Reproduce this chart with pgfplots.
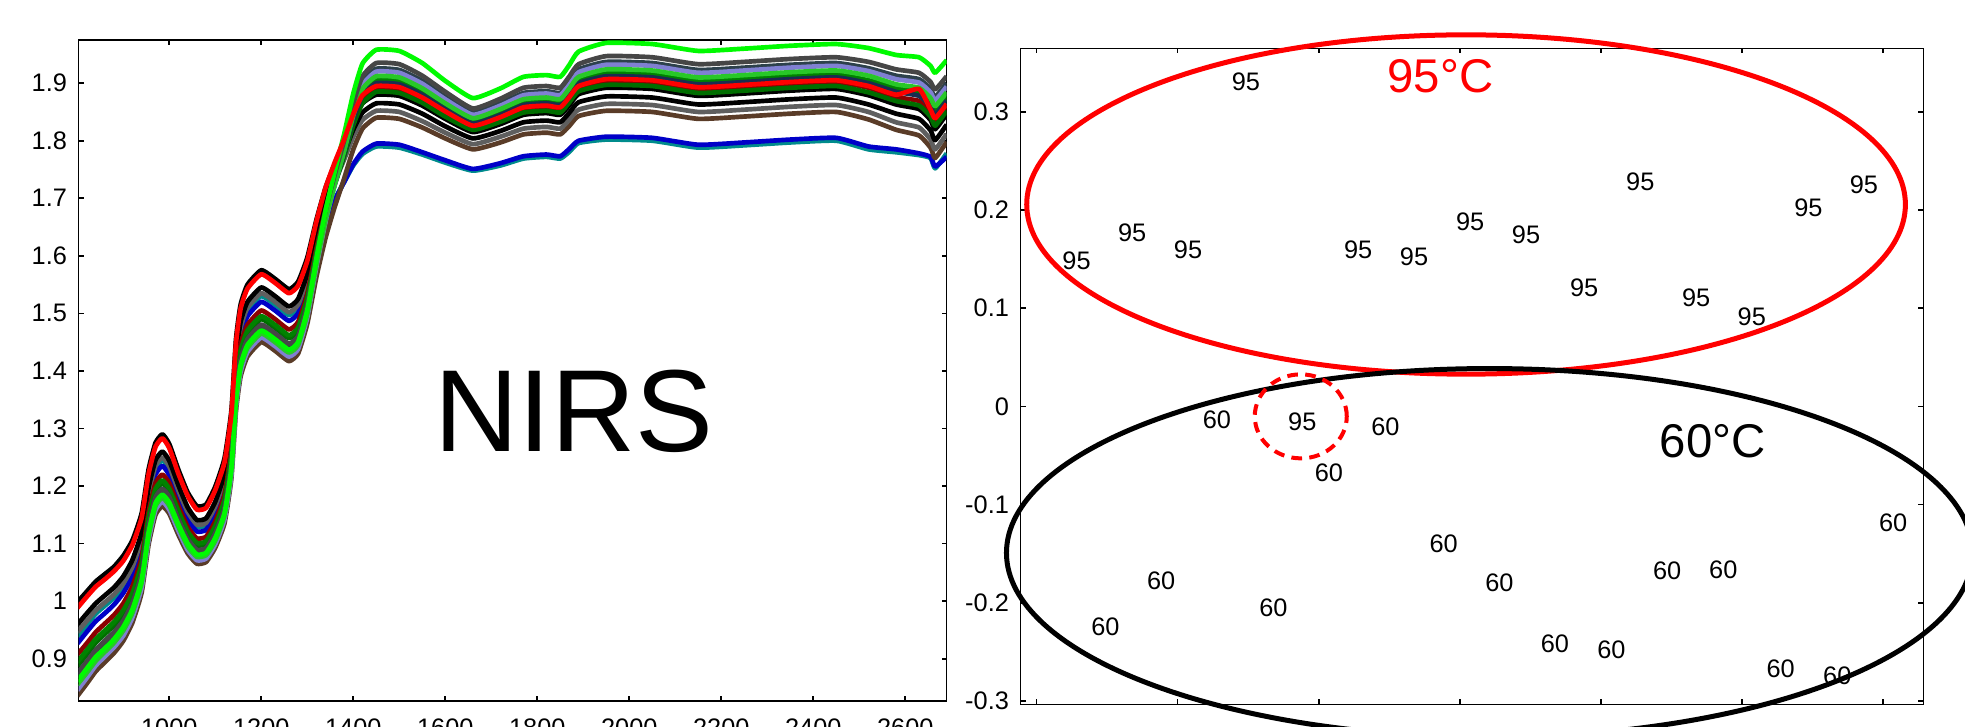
\documentclass[border=0pt]{standalone}
\usepackage{fontspec}
\setmainfont{Liberation Sans}
\usepackage{pgfplots}
\usepackage{pgfplotstable}
\pgfplotsset{compat=1.18}

\definecolor{cteal}{RGB}{0,140,140}
\definecolor{cblue}{RGB}{0,0,200}
\definecolor{cdred}{RGB}{140,0,0}
\definecolor{cdgreen}{RGB}{0,130,0}
\definecolor{cnavy}{RGB}{25,45,80}
\definecolor{cslate}{RGB}{45,65,75}
\definecolor{cgreen}{RGB}{40,200,40}
\definecolor{cpurple}{RGB}{128,128,210}
\definecolor{cbrown}{RGB}{90,60,40}
\definecolor{cdgrey}{RGB}{70,70,70}
\definecolor{clime}{RGB}{0,250,0}
\definecolor{cgrey}{RGB}{95,95,95}
\definecolor{cgreen3}{RGB}{0,110,0}

\pgfplotstableread{
x c1 c2 c3 c4 c5 c6 c7 c8 c9 c10 c11 c12 c13 c14 c15 c16
800 0.998 0.988 0.959 0.939 0.926 0.907 0.894 0.874 0.868 0.855 0.845 0.835 0.874 0.861 0.946 0.887
820 1.016 1.007 0.978 0.958 0.946 0.926 0.914 0.894 0.888 0.875 0.866 0.856 0.894 0.882 0.965 0.907
840 1.034 1.025 0.996 0.978 0.965 0.946 0.934 0.915 0.909 0.896 0.888 0.878 0.915 0.903 0.984 0.928
860 1.047 1.038 1.010 0.992 0.979 0.961 0.949 0.931 0.925 0.912 0.904 0.894 0.931 0.918 0.998 0.943
880 1.060 1.052 1.024 1.006 0.994 0.976 0.964 0.946 0.940 0.928 0.920 0.910 0.946 0.934 1.012 0.958
900 1.079 1.070 1.043 1.025 1.014 0.996 0.984 0.966 0.961 0.949 0.940 0.931 0.966 0.955 1.031 0.978
920 1.106 1.098 1.072 1.055 1.043 1.026 1.014 0.997 0.991 0.980 0.972 0.963 0.997 0.986 1.060 1.009
940 1.153 1.145 1.120 1.103 1.092 1.076 1.065 1.048 1.043 1.032 1.024 1.015 1.048 1.037 1.109 1.059
955 1.229 1.221 1.197 1.182 1.171 1.155 1.145 1.129 1.124 1.113 1.106 1.098 1.129 1.119 1.187 1.140
970 1.275 1.268 1.245 1.230 1.220 1.205 1.195 1.180 1.175 1.165 1.158 1.150 1.180 1.170 1.235 1.190
985 1.290 1.283 1.260 1.245 1.235 1.220 1.210 1.195 1.190 1.180 1.173 1.165 1.195 1.185 1.250 1.205
1000 1.273 1.266 1.244 1.229 1.219 1.205 1.195 1.181 1.176 1.166 1.159 1.152 1.181 1.171 1.234 1.190
1020 1.228 1.221 1.201 1.187 1.178 1.165 1.156 1.142 1.138 1.129 1.122 1.115 1.142 1.133 1.192 1.151
1040 1.189 1.183 1.163 1.151 1.142 1.129 1.121 1.108 1.104 1.095 1.089 1.083 1.108 1.100 1.155 1.117
1060 1.165 1.159 1.141 1.129 1.121 1.109 1.101 1.089 1.085 1.077 1.071 1.065 1.089 1.081 1.133 1.097
1080 1.168 1.162 1.144 1.132 1.124 1.112 1.104 1.092 1.088 1.080 1.074 1.068 1.092 1.084 1.136 1.100
1100 1.199 1.193 1.173 1.161 1.152 1.139 1.131 1.118 1.114 1.105 1.099 1.093 1.118 1.110 1.165 1.127
1120 1.248 1.241 1.221 1.207 1.198 1.185 1.176 1.162 1.158 1.149 1.142 1.135 1.162 1.153 1.212 1.171
1135 1.331 1.325 1.303 1.289 1.279 1.265 1.255 1.241 1.236 1.227 1.220 1.213 1.241 1.232 1.293 1.251
1145 1.455 1.448 1.425 1.410 1.400 1.385 1.375 1.360 1.355 1.345 1.338 1.330 1.360 1.350 1.415 1.370
1155 1.515 1.508 1.485 1.470 1.460 1.445 1.435 1.420 1.415 1.405 1.398 1.390 1.420 1.410 1.475 1.430
1170 1.550 1.543 1.520 1.505 1.495 1.480 1.470 1.455 1.450 1.440 1.433 1.425 1.455 1.445 1.510 1.465
1200 1.575 1.568 1.545 1.530 1.520 1.505 1.495 1.480 1.475 1.465 1.458 1.450 1.480 1.470 1.535 1.490
1230 1.560 1.553 1.530 1.515 1.505 1.490 1.480 1.465 1.460 1.450 1.443 1.435 1.465 1.455 1.520 1.475
1260 1.542 1.535 1.512 1.497 1.487 1.472 1.462 1.447 1.442 1.432 1.425 1.417 1.447 1.437 1.502 1.457
1280 1.555 1.548 1.525 1.510 1.500 1.485 1.475 1.460 1.455 1.445 1.438 1.430 1.460 1.450 1.515 1.470
1300 1.597 1.591 1.569 1.552 1.543 1.534 1.526 1.512 1.509 1.499 1.493 1.482 1.514 1.506 1.559 1.520
1320 1.663 1.660 1.639 1.616 1.609 1.613 1.607 1.595 1.595 1.586 1.582 1.564 1.600 1.596 1.629 1.600
1340 1.719 1.719 1.697 1.665 1.661 1.681 1.679 1.668 1.673 1.663 1.661 1.632 1.679 1.679 1.687 1.670
1360 1.760 1.763 1.740 1.699 1.697 1.734 1.735 1.726 1.735 1.725 1.725 1.686 1.742 1.748 1.729 1.724
1380 1.796 1.802 1.778 1.728 1.728 1.782 1.787 1.779 1.793 1.782 1.784 1.734 1.800 1.811 1.767 1.773
1400 1.835 1.846 1.819 1.757 1.759 1.834 1.843 1.837 1.856 1.844 1.850 1.785 1.865 1.882 1.807 1.827
1420 1.865 1.879 1.849 1.777 1.781 1.873 1.885 1.879 1.903 1.890 1.897 1.821 1.912 1.934 1.836 1.865
1450 1.880 1.895 1.865 1.790 1.795 1.892 1.905 1.900 1.925 1.912 1.920 1.840 1.935 1.958 1.852 1.885
1500 1.878 1.893 1.863 1.788 1.793 1.890 1.903 1.898 1.923 1.910 1.918 1.838 1.933 1.956 1.850 1.883
1550 1.861 1.875 1.847 1.776 1.780 1.872 1.885 1.880 1.904 1.891 1.899 1.823 1.913 1.935 1.834 1.866
1600 1.838 1.851 1.825 1.762 1.766 1.848 1.859 1.855 1.876 1.865 1.872 1.804 1.885 1.904 1.814 1.842
1660 1.815 1.826 1.804 1.748 1.751 1.824 1.834 1.830 1.849 1.839 1.845 1.785 1.856 1.874 1.794 1.819
1720 1.829 1.841 1.817 1.757 1.761 1.839 1.849 1.845 1.865 1.855 1.861 1.797 1.873 1.891 1.807 1.833
1770 1.845 1.858 1.832 1.769 1.773 1.855 1.866 1.862 1.883 1.872 1.879 1.811 1.892 1.911 1.821 1.849
1820 1.848 1.861 1.835 1.772 1.776 1.858 1.869 1.865 1.886 1.875 1.882 1.814 1.895 1.914 1.824 1.852
1850 1.845 1.858 1.832 1.769 1.773 1.855 1.866 1.862 1.883 1.872 1.879 1.811 1.892 1.911 1.821 1.849
1870 1.862 1.876 1.849 1.781 1.786 1.873 1.885 1.880 1.903 1.891 1.898 1.826 1.912 1.932 1.837 1.867
1890 1.881 1.895 1.867 1.796 1.800 1.892 1.905 1.900 1.924 1.911 1.919 1.843 1.933 1.955 1.854 1.886
1950 1.892 1.907 1.877 1.802 1.807 1.904 1.917 1.912 1.937 1.924 1.932 1.852 1.947 1.970 1.864 1.897
2050 1.890 1.905 1.875 1.800 1.805 1.902 1.915 1.910 1.935 1.922 1.930 1.850 1.945 1.968 1.862 1.895
2150 1.878 1.893 1.863 1.788 1.793 1.890 1.903 1.898 1.923 1.910 1.918 1.838 1.933 1.956 1.850 1.883
2250 1.882 1.897 1.867 1.792 1.797 1.894 1.907 1.902 1.927 1.914 1.922 1.842 1.937 1.960 1.854 1.887
2350 1.887 1.902 1.872 1.797 1.802 1.899 1.912 1.907 1.932 1.919 1.927 1.847 1.942 1.965 1.859 1.892
2450 1.890 1.905 1.875 1.800 1.805 1.902 1.915 1.910 1.935 1.922 1.930 1.850 1.945 1.968 1.862 1.895
2520 1.879 1.895 1.863 1.785 1.790 1.892 1.905 1.900 1.926 1.913 1.921 1.837 1.937 1.961 1.850 1.884
2580 1.863 1.880 1.847 1.780 1.785 1.876 1.891 1.885 1.913 1.898 1.907 1.819 1.924 1.949 1.832 1.869
2630 1.855 1.890 1.838 1.775 1.778 1.869 1.884 1.878 1.907 1.892 1.901 1.809 1.918 1.945 1.823 1.861
2655 1.836 1.854 1.818 1.770 1.772 1.850 1.866 1.860 1.890 1.874 1.884 1.788 1.902 1.930 1.802 1.842
2665 1.820 1.839 1.801 1.752 1.755 1.835 1.851 1.845 1.876 1.860 1.870 1.770 1.889 1.918 1.785 1.826
2690 1.846 1.864 1.828 1.778 1.772 1.860 1.876 1.870 1.900 1.884 1.894 1.798 1.912 1.940 1.812 1.852
}\spectra

\pgfplotstableread{
x y t
-0.1516 0.3306 95
-0.2717 0.1482 95
-0.2322 0.1763 95
-0.1926 0.1594 95
-0.0720 0.1594 95
-0.0324 0.1526 95
0.0074 0.1882 95
0.0470 0.1747 95
0.1280 0.2289 95
0.0882 0.1211 95
0.1676 0.1102 95
0.2071 0.0916 95
0.2472 0.2017 95
0.2866 0.2255 95
-0.1116 -0.0153 95
-0.1721 -0.0135 60
-0.0527 -0.0203 60
-0.0927 -0.0679 60
-0.2117 -0.1780 60
-0.2512 -0.2248 60
-0.1321 -0.2052 60
-0.0114 -0.1401 60
0.0281 -0.1798 60
0.0675 -0.2418 60
0.1075 -0.2475 60
0.1471 -0.1679 60
0.1869 -0.1661 60
0.3073 -0.1187 60
0.2276 -0.2668 60
0.2677 -0.2747 60
}\scores

\pgfplotsset{
  myaxis/.style={
    scale only axis,
    anchor=south west,
    tick align=inside,
    major tick length=1.5pt,
    axis line style={line width=0.45pt},
    every tick/.style={black, line width=0.5pt},
    ticklabel style={font=\fontsize{7.6}{9}\selectfont},
  },
  spec/.style={line width=1.4pt, line join=round, mark=none, smooth, tension=0.3},
}

\begin{document}
\begin{tikzpicture}
\begin{axis}[myaxis,
  at={(23.6pt,7.5pt)}, width=260.4pt, height=198.3pt,
  xmin=803, xmax=2690, ymin=0.8265, ymax=1.975,
  xtick={1000,1200,1400,1600,1800,2000,2200,2400,2600},
  xticklabels={1000,1200,1400,1600,1800,2000,2200,2400,2600},
  ytick={0.9,1,1.1,1.2,1.3,1.4,1.5,1.6,1.7,1.8,1.9},
  yticklabels={0.9,1,1.1,1.2,1.3,1.4,1.5,1.6,1.7,1.8,1.9},
  xticklabel style={yshift=-1.7pt},
]
\addplot[spec, cteal] table[x=x, y=c4] {\spectra};
\addplot[spec, cblue] table[x=x, y=c5] {\spectra};
\addplot[spec, cbrown] table[x=x, y=c12] {\spectra};
\addplot[spec, cgrey] table[x=x, y=c15] {\spectra};
\addplot[spec, black] table[x=x, y=c3] {\spectra};
\addplot[spec, black] table[x=x, y=c1] {\spectra};
\addplot[spec, cdred] table[x=x, y=c6] {\spectra};
\addplot[spec, cgreen3] table[x=x, y=c16] {\spectra};
\addplot[spec, cdgreen] table[x=x, y=c7] {\spectra};
\addplot[spec, cnavy] table[x=x, y=c8] {\spectra};
\addplot[spec, cslate] table[x=x, y=c9] {\spectra};
\addplot[spec, cpurple] table[x=x, y=c11] {\spectra};
\addplot[spec, cgreen] table[x=x, y=c10] {\spectra};
\addplot[spec, cdgrey] table[x=x, y=c13] {\spectra};
\addplot[spec, clime] table[x=x, y=c14] {\spectra};
\addplot[spec, red] table[x=x, y=c2] {\spectra};
\node[font=\fontsize{35}{40}\selectfont] at (axis cs:1880,1.3305) {NIRS};
\end{axis}

\begin{axis}[myaxis,
  at={(306.2pt,6.5pt)}, width=270.8pt, height=196.8pt,
  xmin=-0.3113, xmax=0.3287, ymin=-0.3034, ymax=0.3645,
  xtick={-0.3,-0.2,-0.1,0,0.1,0.2,0.3},
  xticklabels={},
  ytick={-0.3,-0.2,-0.1,0,0.1,0.2,0.3},
  yticklabels={-0.3,-0.2,-0.1,0,0.1,0.2,0.3},
  clip=false,
]
\addplot[draw=none, mark=none, nodes near coords, point meta=explicit symbolic,
  nodes near coords style={anchor=center, text=black, font=\fontsize{7.6}{9}\selectfont}]
  table[x=x, y=y, meta=t] {\scores};
\draw[red, line width=1.5pt] (axis cs:0.0045,0.2055) ellipse [x radius=131.8pt, y radius=50.9pt];
\draw[black, line width=1.5pt] (axis cs:0.0211,-0.1492) ellipse [x radius=144.9pt, y radius=55.3pt];
\draw[red, line width=1.2pt, dash pattern=on 3.2pt off 2.2pt] (axis cs:-0.1127,-0.0102) ellipse [x radius=13.8pt, y radius=12.6pt];
\node[red, font=\fontsize{14.2}{16}\selectfont] at (axis cs:-0.0136,0.3357) {95°C};
\node[black, font=\fontsize{14.2}{16}\selectfont] at (axis cs:0.1794,-0.0356) {60°C};
\end{axis}
\pgfresetboundingbox
\path[use as bounding box] (0,0) rectangle (589.5pt,217.8pt);
\end{tikzpicture}
\end{document}
